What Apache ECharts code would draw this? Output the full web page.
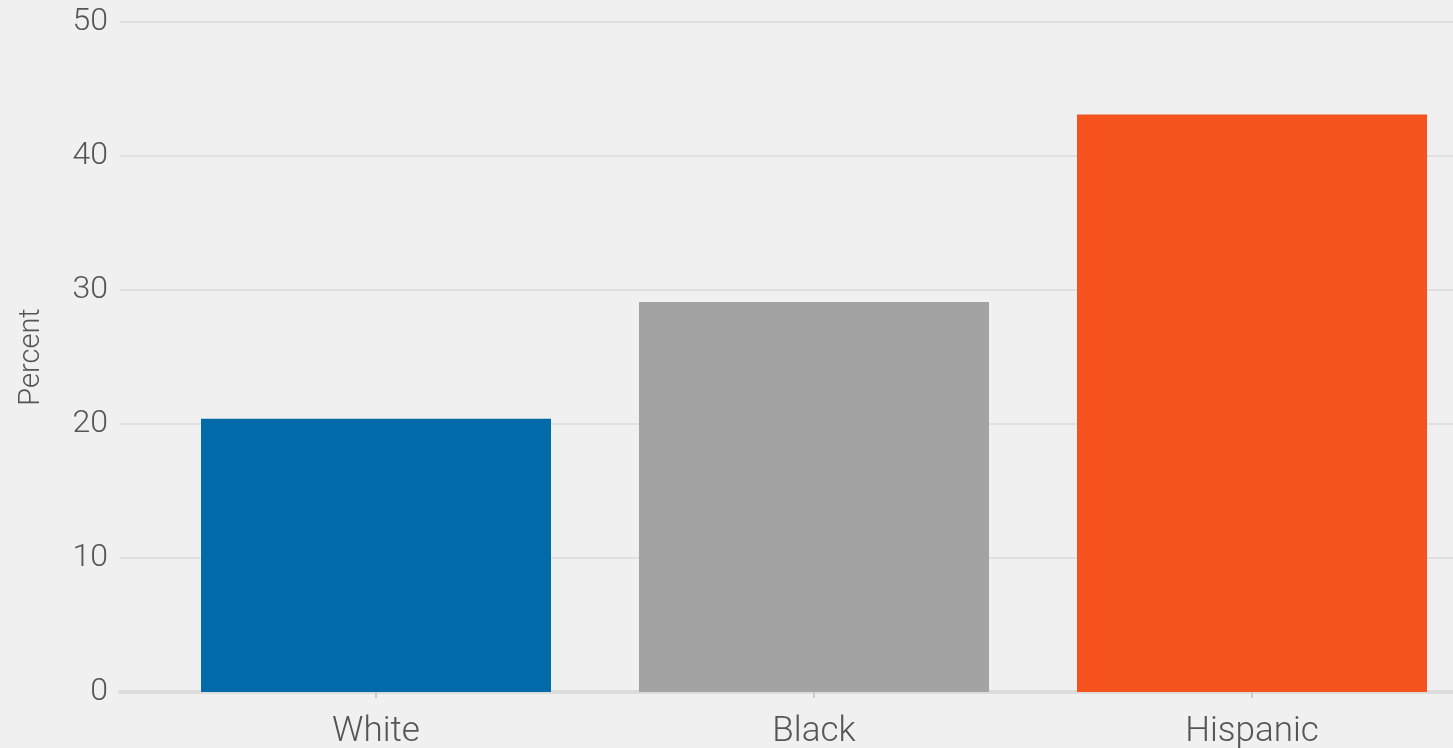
<!DOCTYPE html>
<html>
<head>
<meta charset="utf-8">
<style>
html,body{margin:0;padding:0;background:#f0f0f0;}
#chart{width:1453px;height:748px;}
</style>
<script src="https://cdn.jsdelivr.net/npm/echarts@6/dist/echarts.min.js"></script>
</head>
<body>
<div id="chart"></div>
<script>
const categories = ['White', 'Black', 'Hispanic'];
const values = [20.4, 29.1, 43.1];
const colors = ['#006BA8', '#A3A3A3', '#F5521E'];
const yTicks = [0, 10, 20, 30, 40, 50];

const positions = categories.map((c, i) => i + 1);
const chart = echarts.init(document.getElementById('chart'));
const fontFamily = 'Roboto';
chart.setOption({
  backgroundColor: '#f0f0f0',
  animation: false,
  grid: { left: 120, right: 0, top: 22, bottom: 56, containLabel: false, outerBoundsMode: 'none' },
  xAxis: {
    type: 'value',
    min: 0.4155,
    max: 3.4589,
    splitLine: { show: false },
    axisLine: { show: true, onZero: false, lineStyle: { color: '#dcdcdc', width: 4 } },
    axisTick: { show: true, customValues: positions, length: 6, lineStyle: { color: '#cccccc', width: 2 } },
    axisLabel: {
      customValues: positions,
      formatter: v => categories[Math.round(v) - 1] || '',
      color: '#555555', fontSize: 35, fontFamily: fontFamily, fontWeight: 300, margin: 23
    }
  },
  yAxis: {
    type: 'value',
    min: yTicks[0], max: yTicks[yTicks.length - 1], interval: 10,
    name: 'Percent',
    nameLocation: 'middle',
    nameGap: 74,
    nameTextStyle: { color: '#555555', fontSize: 29, fontFamily: fontFamily, fontWeight: 300 },
    axisLine: { show: false },
    axisTick: { show: false },
    splitLine: { lineStyle: { color: '#e0e0e0', width: 2 } },
    axisLabel: { color: '#555555', fontSize: 32, fontFamily: fontFamily, fontWeight: 300, margin: 12 }
  },
  series: [{
    type: 'bar',
    barWidth: 350,
    data: values.map((v, i) => ({ value: [positions[i], v], itemStyle: { color: colors[i] } }))
  }]
});
</script>
</body>
</html>
